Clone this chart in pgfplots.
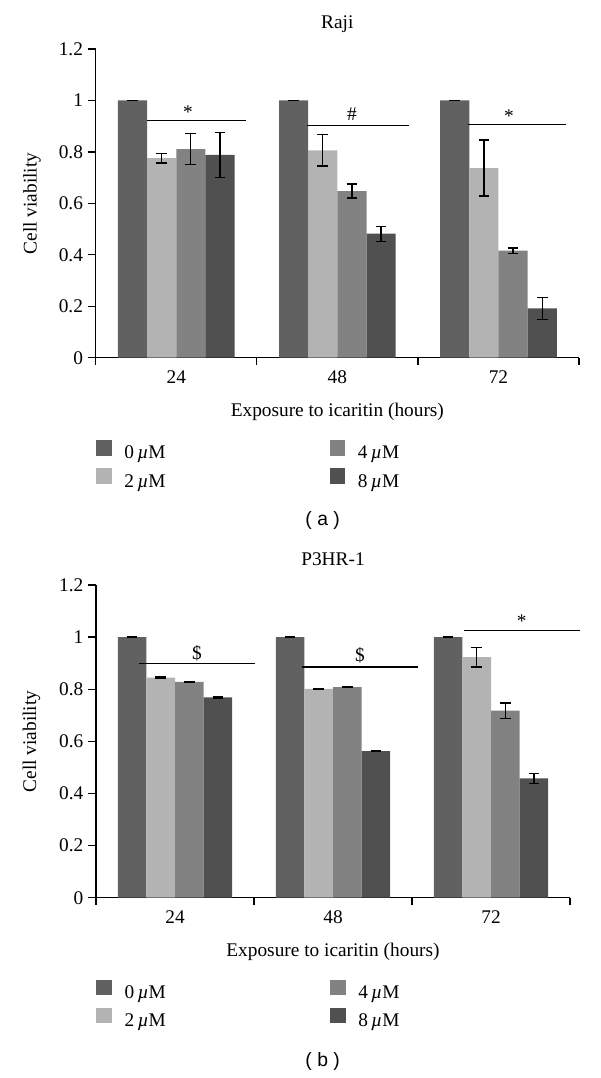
\documentclass[border=0pt]{standalone}
\usepackage{pgfplots}
\pgfplotsset{compat=1.18}
\usepackage{fontspec}
\setmainfont{Liberation Serif}
\newfontfamily\labelsans{Liberation Sans}
\definecolor{c0}{HTML}{616161}
\definecolor{c2}{HTML}{B3B3B3}
\definecolor{c4}{HTML}{828282}
\definecolor{c8}{HTML}{505050}

\pgfplotsset{
  panel/.style={
    scale only axis,
    clip=false,
    ybar=0pt,
    xmin=0.5, xmax=3.5, ymin=0, ymax=1.2,
    axis x line*=bottom, axis y line*=left,
    axis line style={black, line width=1pt},
    xtick={1,2,3}, xticklabels={24,48,72},
    minor xtick={0.5,1.5,2.5,3.5},
    ytick={0,0.2,0.4,0.6,0.8,1,1.2},
    yticklabels={0,0.2,0.4,0.6,0.8,1,1.2},
    /pgf/number format/assume math mode=true,
    tick align=outside,
    major x tick style={draw=none},
    minor x tick style={black, line width=1pt},
    major y tick style={black, line width=1pt},
    major tick length=6pt,
    minor tick length=5.3pt,
    font=\fontsize{14.5}{16}\selectfont,
    ylabel={Cell viability},
    xlabel={Exposure to icaritin (hours)},
    legend columns=2,
    transpose legend,
    legend cell align=left,
    legend style={draw=none, fill=none, anchor=north west, inner sep=0pt,
      row sep=5.2pt,
      nodes={inner sep=0pt},
      /tikz/every odd column/.append style={column sep=9.5pt},
      /tikz/every even column/.append style={column sep=123pt}},
    legend image code/.code={\fill[##1] (0pt,-1.5pt) rectangle (11.8pt,10.3pt);},
  },
  eb/.style={
    error bars/y dir=both, error bars/y explicit,
    error bars/error bar style={black, line width=1pt},
    error bars/error mark options={rotate=90, black, line width=1pt, mark size=4pt},
  },
}

\begin{document}
\begin{tikzpicture}
\useasboundingbox (0,0) rectangle (450pt,-808.5pt);

% ---------------- Panel (a) ----------------
\begin{axis}[panel,
  at={(71.775pt,-268.275pt)}, anchor=south west,
  width=362.475pt, height=231.525pt,
  title={Raji},
  title style={at={(axis description cs:0.5,1.056)}, anchor=center},
  ylabel style={at={(axis description cs:-0.132,0.5)}, anchor=center},
  xlabel style={at={(axis description cs:0.5,-0.176)}, anchor=center},
  legend style={at={(axis description cs:0,-0.265)}},
]
\addplot[fill=c0, draw=none, bar width=0.181, bar shift=-0.2715, eb] coordinates {
  (1,1) +- (0,0.001) (2,1) +- (0,0.001) (3,1) +- (0,0.001)};
\addplot[fill=c2, draw=none, bar width=0.181, bar shift=-0.0905, eb] coordinates {
  (1,0.776) +- (0,0.019) (2,0.806) +- (0,0.061) (3,0.737) +- (0,0.109)};
\addplot[fill=c4, draw=none, bar width=0.181, bar shift=0.0905, eb] coordinates {
  (1,0.811) +- (0,0.060) (2,0.648) +- (0,0.027) (3,0.416) +- (0,0.011)};
\addplot[fill=c8, draw=none, bar width=0.181, bar shift=0.2715, eb] coordinates {
  (1,0.788) +- (0,0.088) (2,0.482) +- (0,0.029) (3,0.192) +- (0,0.043)};
\legend{0\,{\itshape µ}M, 2\,{\itshape µ}M, 4\,{\itshape µ}M, 8\,{\itshape µ}M}
\draw[black, line width=1pt] (axis cs:0.818,0.922) -- (axis cs:1.431,0.922);
\node at (axis cs:1.073,0.955) {*};
\draw[black, line width=1pt] (axis cs:1.812,0.903) -- (axis cs:2.445,0.903);
\node at (axis cs:2.09,0.945) {\#};
\draw[black, line width=1pt] (axis cs:2.809,0.907) -- (axis cs:3.419,0.907);
\node at (axis cs:3.065,0.94) {*};
\end{axis}

% ---------------- Panel (b) ----------------
\begin{axis}[panel,
  at={(72pt,-673.275pt)}, anchor=south west,
  width=355.5pt, height=234.525pt,
  title={P3HR-1},
  title style={at={(axis description cs:0.5,1.0585)}, anchor=center},
  ylabel style={at={(axis description cs:-0.136,0.5)}, anchor=center},
  xlabel style={at={(axis description cs:0.5,-0.174)}, anchor=center},
  legend style={at={(axis description cs:0,-0.261)}},
]
\addplot[fill=c0, draw=none, bar width=0.181, bar shift=-0.2715, eb] coordinates {
  (1,1) +- (0,0.001) (2,1) +- (0,0.001) (3,1) +- (0,0.001)};
\addplot[fill=c2, draw=none, bar width=0.181, bar shift=-0.0905, eb] coordinates {
  (1,0.845) +- (0,0.002) (2,0.801) +- (0,0.002) (3,0.923) +- (0,0.038)};
\addplot[fill=c4, draw=none, bar width=0.181, bar shift=0.0905, eb] coordinates {
  (1,0.828) +- (0,0.002) (2,0.808) +- (0,0.002) (3,0.718) +- (0,0.029)};
\addplot[fill=c8, draw=none, bar width=0.181, bar shift=0.2715, eb] coordinates {
  (1,0.769) +- (0,0.002) (2,0.563) +- (0,0.001) (3,0.458) +- (0,0.019)};
\legend{0\,{\itshape µ}M, 2\,{\itshape µ}M, 4\,{\itshape µ}M, 8\,{\itshape µ}M}
\draw[black, line width=1pt] (axis cs:0.774,0.899) -- (axis cs:1.506,0.899);
\node at (axis cs:1.139,0.94) {\$};
\draw[black, line width=1pt] (axis cs:1.802,0.886) -- (axis cs:2.536,0.886);
\node at (axis cs:2.171,0.93) {\$};
\draw[black, line width=1pt] (axis cs:2.831,1.026) -- (axis cs:3.563,1.026);
\node at (axis cs:3.194,1.06) {*};
\end{axis}

\node[font=\labelsans\fontsize{14.5}{16}\selectfont] at (242pt,-390.5pt) {( a )};
\node[font=\labelsans\fontsize{14.5}{16}\selectfont] at (242pt,-796pt) {( b )};
\end{tikzpicture}
\end{document}
